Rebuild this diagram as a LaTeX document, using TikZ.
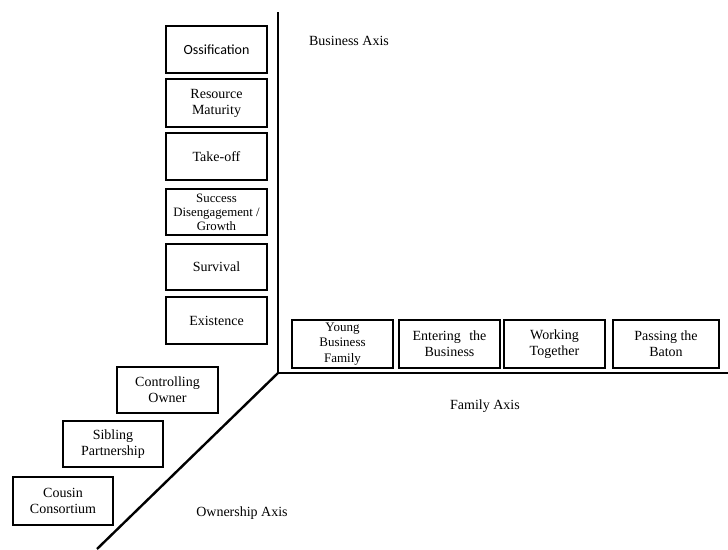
\documentclass[tikz,border=0pt]{standalone}
\usepackage{fontspec}
\setmainfont{Liberation Serif}
\newfontfamily\calib{Carlito}
\newfontfamily\tnr{Liberation Serif}
\begin{document}
\begin{tikzpicture}[x=1pt,y=-1pt,
  stage/.style={draw=black,line width=2pt,minimum width=101pt,minimum height=47pt,inner sep=0pt,align=center,font=\tnr\fontsize{14}{16}\selectfont},
  smallstage/.style={stage,font=\tnr\fontsize{12.8}{14}\selectfont},
  axis/.style={line width=2.4pt,line join=miter},
  axlabel/.style={font=\tnr\fontsize{14}{16}\selectfont,inner sep=0pt}]
\useasboundingbox (0,0) rectangle (728,549);
% axes
\coordinate (O) at (278,373);
\coordinate (top) at (278,12);
\coordinate (right) at (728,373);
\coordinate (diag) at (97,549);
\draw[axis] (top) -- (O) -- (right);
\draw[axis] (O) -- (diag);
% business axis stages
\node[stage,font=\calib\fontsize{14}{16}\selectfont] (oss) at (216.5,49.5) {Ossification};
\node[stage,minimum height=48pt] (res) at (216.5,103) {Resource\\Maturity};
\node[stage] (take) at (216.5,156.5) {Take-off};
\node[smallstage,minimum height=46pt] (succ) at (216.5,212) {Success\\Disengagement /\\Growth};
\node[stage,minimum height=46pt] (surv) at (216.5,267) {Survival};
\node[stage] (exist) at (216.5,320.5) {Existence};
% family axis stages
\node[stage,minimum height=48pt,font=\tnr\fontsize{13}{15.5}\selectfont] (young) at (342.5,344) {Young\\Business\\Family};
\node[stage,minimum height=48pt] (enter) at (449.5,344) {Entering\hspace{0.6em}the\\Business};
\node[stage,minimum height=48pt] (work) at (554.5,344) {Working\\Together};
\node[stage,minimum height=48pt,minimum width=106pt] (pass) at (666,344) {Passing the\\Baton};
% ownership axis stages
\node[stage,minimum height=46pt] (ctrl) at (167.5,390) {Controlling\\Owner};
\node[stage,minimum height=46pt,minimum width=100pt] (sib) at (113,444) {Sibling\\Partnership};
\node[stage,minimum height=48pt,minimum width=100pt] (cous) at (63,501) {Cousin\\Consortium};
% axis labels
\node[axlabel] (bax) at (349,41) {Business Axis};
\node[axlabel] (fax) at (485,406) {Family Axis};
\node[axlabel] (oax) at (242,513) {Ownership Axis};
\end{tikzpicture}
\end{document}
